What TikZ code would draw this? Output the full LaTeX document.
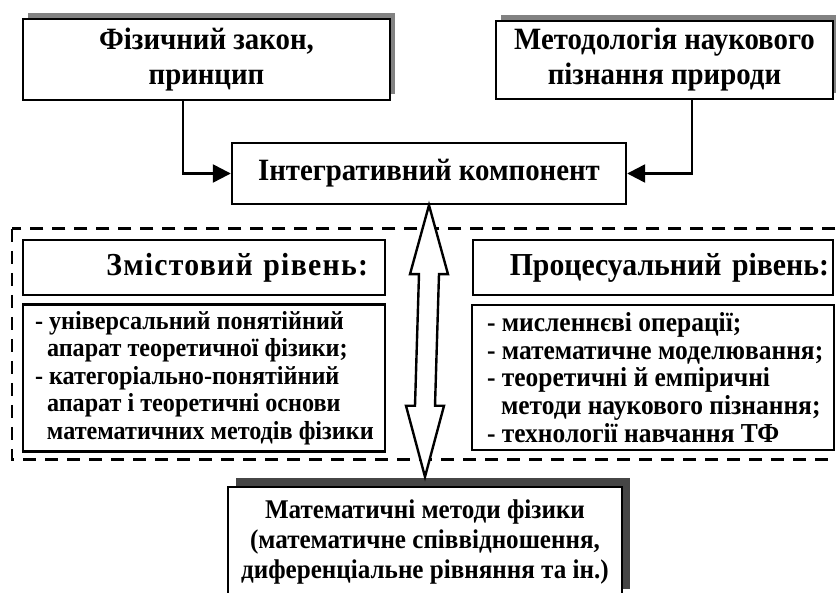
\documentclass[tikz,border=0pt]{standalone}
\usepackage{fontspec}
\setmainfont{Liberation Serif}[FakeStretch=0.93]
\definecolor{shadowgray}{RGB}{130,130,130}
\definecolor{darkshadow}{RGB}{70,70,70}
\usetikzlibrary{positioning,shadows,calc,arrows.meta}
\newcommand{\lpad}[1]{\hspace*{#1}}

\begin{document}
\begin{tikzpicture}[x=0.5pt,y=-0.5pt,
        every node/.style={draw,rectangle,line width=1.2pt,fill=white,align=center,
            font=\fontsize{15.5}{17.5}\selectfont\bfseries},
        topbox/.style={drop shadow={shadow xshift=2.5pt,shadow yshift=3pt,fill=shadowgray,opacity=1}},
        basebox/.style={drop shadow={shadow xshift=4pt,shadow yshift=4.5pt,fill=darkshadow,opacity=1}},
        headbox/.style={minimum height=27.5pt,align=right,font=\fontsize{16}{18}\selectfont\bfseries},
        listbox/.style={align=flush left,inner xsep=2pt,text width=177pt,
            font=\fontsize{13}{13.8}\selectfont\bfseries},
        conn/.style={line width=1.2pt,-{Triangle[length=9pt,width=9pt]}},
        dashbox/.style={line width=1.3pt,dash pattern=on 6.5pt off 4.5pt},
        bigarrow/.style={line width=1.2pt,fill=white,line join=miter}
        ]
        \useasboundingbox (0,0) rectangle (836,593);

        % the upper boxes
        \node[topbox,minimum width=183.5pt,minimum height=40.5pt] (fiz) at (206.5,59.5)
            {Фізичний закон,\\принцип};
        \node[topbox,minimum width=168.5pt,minimum height=39pt] (metod) at (664.5,60)
            {Методологія наукового\\пізнання природи};
        \node[minimum width=197pt,minimum height=30.5pt] (integ) at (429,173.5)
            {Інтегративний компонент};

        % the two levels
        \node[headbox,inner xsep=8.5pt,text width=164pt] (zmisthead) at (204,267.5)
            {\addfontfeature{LetterSpace=4}Змістовий рівень:};
        \node[listbox,minimum height=72pt] (zmistlist) at (204,378)
            {\lpad{4pt}- універсальний понятійний\\\lpad{10pt}апарат теоретичної фізики;\\
             \lpad{4pt}- категоріально-понятійний\\\lpad{10pt}апарат і теоретичні основи\\
             \lpad{10pt}математичних методів фізики};
        \node[headbox,inner xsep=2pt,text width=176pt] (prochead) at (653,267.5)
            {Процесуальний рівень:};
        \node[listbox,minimum height=72.5pt,font=\fontsize{13.7}{13.8}\selectfont\bfseries] (proclist) at (653,377.5)
            {\lpad{5.5pt}- мисленнєві операції;\\\lpad{5.5pt}- математичне моделювання;\\
             \lpad{5.5pt}- теоретичні й емпіричні\\\lpad{12.5pt}методи наукового пізнання;\\
             \lpad{5.5pt}- технології навчання ТФ};

        % the lower box
        \node[basebox,minimum width=197pt,minimum height=55.5pt,
            font=\fontsize{13.5}{15}\selectfont\bfseries] (mmf) at (425,542.5)
            {Математичні методи фізики\\(математичне співвідношення,\\диференціальне рівняння та ін.)};

        % the dashed frame
        \draw[dashbox] ($(zmisthead.north west)+(-10,-10)$) rectangle ($(proclist.south east)+(7,8)$);

        % the connectors
        \draw[conn] ($(fiz.south)+(-23.5,0)$) |- (integ.west);
        \draw[conn] ($(metod.south)+(27.5,0)$) |- (integ.east);

        % the double arrow
        \coordinate (tt) at (integ.south);
        \coordinate (tb) at ($(mmf.north)+(0,-9)$);
        \draw[bigarrow] (tt) -- ++(-19,69) -- ++(9,0) -- ($(tb)+(-10,-71)$) -- ++(-9,0) -- (tb)
            -- ++(19,-71) -- ++(-9,0) -- ($(tt)+(10,69)$) -- ++(9,0) -- cycle;
\end{tikzpicture}
\end{document}
